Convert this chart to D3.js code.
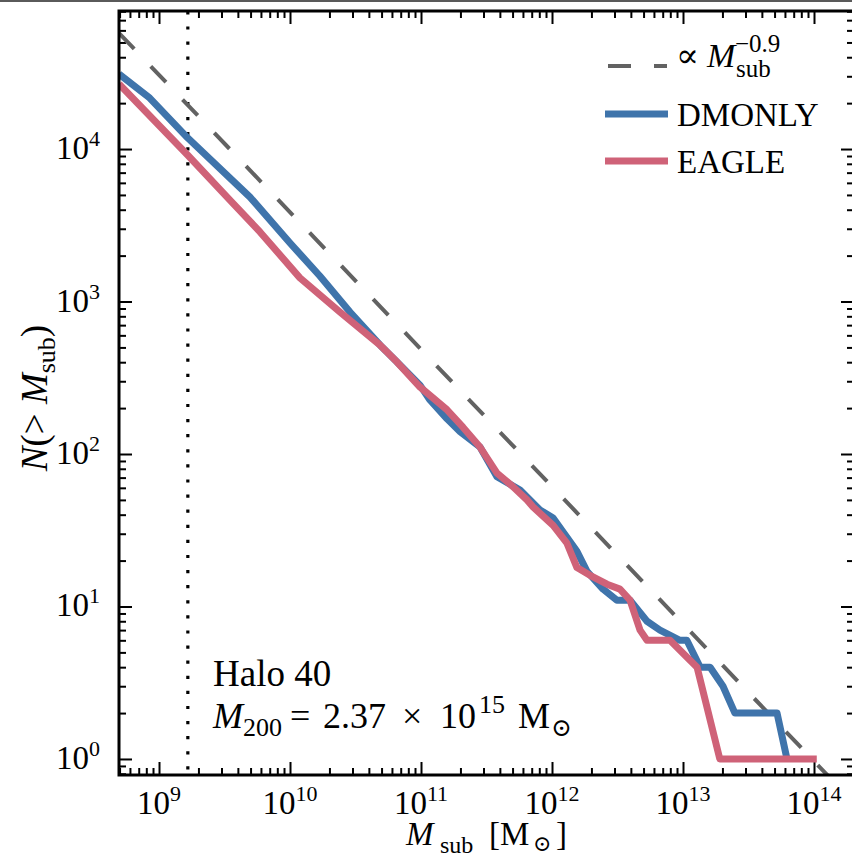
<!DOCTYPE html>
<html>
<head>
<meta charset="utf-8">
<script src="https://cdn.jsdelivr.net/npm/d3@7"></script>
<style>
body { margin: 0; background: #fff; }
svg { display: block; }
text { font-family: "Liberation Serif", "DejaVu Serif", serif; fill: #000; }
</style>
</head>
<body>
<div id="chart"></div>
<script>
// cumulative subhalo mass functions
var dmonlyMass = [4.95e8, 8.5e8, 1.66e9, 4.95e9, 1.0e10, 1.69e10, 2.87e10, 4.86e10, 6.56e10, 9.82e10,
    1.17e11, 1.58e11, 1.99e11, 2.82e11, 3.80e11, 5.70e11, 8.09e11, 1.02e12, 1.55e12, 1.85e12,
    2.45e12, 3.13e12, 3.94e12, 5.31e12, 6.67e12, 9.48e12, 1.07e13, 1.35e13, 1.61e13, 2.02e13,
    2.49e13, 5.22e13, 6.22e13];
var dmonlyCount = [31000, 21600, 11800, 4840, 2420, 1470, 853, 519, 401, 283,
    226, 170, 140, 111, 71, 58, 43, 38, 23, 17,
    13, 11, 11, 8, 7, 6, 6, 4, 4, 3,
    2, 2, 1];

var eagleMass = [4.95e8, 1.66e9, 3.48e9, 5.9e9, 1.19e10, 2.41e10, 4.86e10, 6.56e10, 9.82e10, 1.58e11,
    2.09e11, 2.82e11, 3.80e11, 5.04e11, 6.44e11, 7.16e11, 1.02e12, 1.30e12, 1.55e12, 1.95e12,
    2.63e12, 3.30e12, 3.94e12, 4.70e12, 5.31e12, 7.96e12, 1.28e13, 1.91e13, 1.05e14];
var eagleCount = [26700, 9100, 4630, 2860, 1430, 853, 519, 401, 275, 195,
    150, 111, 75, 61, 50, 45, 34, 26, 18, 16,
    14, 13, 11, 7, 6, 6, 4, 1, 1];

// reference power law N ~ A * M^-0.9
var slopeNorm = 3.855e12;
var slopeIndex = -0.9;

var resolutionMass = 1.66e9;

var xTickValues = [1e9, 1e10, 1e11, 1e12, 1e13, 1e14];
var xTickExps = ["9", "10", "11", "12", "13", "14"];
var yTickValues = [1, 10, 100, 1000, 10000];
var yTickExps = ["0", "1", "2", "3", "4"];

var colors = { dmonly: "#3f74ab", eagle: "#cf6278", slope: "#626262" };

var width = 852, height = 860;
var margin = { left: 119, right: -2, top: 11, bottom: 85 };
var plotW = width - margin.left - margin.right,
    plotH = height - margin.top - margin.bottom;

var svg = d3.select("#chart")
    .append("svg")
    .attr("width", width)
    .attr("height", height);

// dark strip along the top edge of the page
svg.append("rect")
    .attr("x", 0).attr("y", 0)
    .attr("width", width).attr("height", 2)
    .attr("fill", "#5a5a5a");

var x = d3.scaleLog().domain([4.95e8, 2.02e14]).range([0, plotW]);
var y = d3.scaleLog().domain([0.785, 8.04e4]).range([plotH, 0]);

var g = svg.append("g")
    .attr("transform", "translate(" + margin.left + "," + margin.top + ")");

g.append("clipPath").attr("id", "plotclip")
    .append("rect").attr("width", plotW).attr("height", plotH);

function minorTicks(domain) {
    var out = [];
    for (var d = -1; d <= 15; d++) {
        for (var k = 2; k <= 9; k++) {
            var v = k * Math.pow(10, d);
            if (v > domain[0] && v < domain[1]) out.push(v);
        }
    }
    return out;
}

function drawTicks(axis, transform, values, size) {
    var a = g.append("g")
        .attr("transform", transform)
        .call(axis.tickValues(values).tickSize(size).tickFormat(""));
    a.select(".domain").remove();
    a.selectAll("line").attr("stroke", "#000").attr("stroke-width", 2);
}

var xMinor = minorTicks(x.domain()), yMinor = minorTicks(y.domain());
drawTicks(d3.axisBottom(x), "translate(0," + plotH + ")", xTickValues, -13);
drawTicks(d3.axisBottom(x), "translate(0," + plotH + ")", xMinor, -7);
drawTicks(d3.axisTop(x), "translate(0,0)", xTickValues, -13);
drawTicks(d3.axisTop(x), "translate(0,0)", xMinor, -7);
drawTicks(d3.axisLeft(y), "translate(0,0)", yTickValues, -13);
drawTicks(d3.axisLeft(y), "translate(0,0)", yMinor, -7);
drawTicks(d3.axisRight(y), "translate(" + plotW + ",0)", yTickValues, -13);
drawTicks(d3.axisRight(y), "translate(" + plotW + ",0)", yMinor, -7);

// tick labels as 10^n
function powLabel(t, exp) {
    t.append("tspan").text("10");
    t.append("tspan").attr("dy", -13).attr("font-size", 22).text(exp);
}

xTickValues.forEach(function (v, i) {
    var t = g.append("text")
        .attr("x", x(v))
        .attr("y", plotH + 39)
        .attr("text-anchor", "middle")
        .attr("font-size", 33);
    powLabel(t, xTickExps[i]);
});

yTickValues.forEach(function (v, i) {
    var t = g.append("text")
        .attr("x", -19)
        .attr("y", y(v) + 10)
        .attr("text-anchor", "end")
        .attr("font-size", 33);
    powLabel(t, yTickExps[i]);
});

var plot = g.append("g").attr("clip-path", "url(#plotclip)");

// resolution limit
plot.append("line")
    .attr("x1", x(resolutionMass)).attr("x2", x(resolutionMass))
    .attr("y1", plotH).attr("y2", 0)
    .attr("stroke", "#000")
    .attr("stroke-width", 3.2)
    .attr("stroke-dasharray", "3.2,11.9")
    .attr("stroke-dashoffset", 9.6);

// power law
var slopeData = x.domain().map(function (m) {
    return { m: m, n: slopeNorm * Math.pow(m, slopeIndex) };
});
plot.append("path")
    .datum(slopeData)
    .attr("fill", "none")
    .attr("stroke", colors.slope)
    .attr("stroke-width", 4)
    .attr("stroke-dasharray", "22,24")
    .attr("d", d3.line().x(function (d) { return x(d.m); }).y(function (d) { return y(d.n); }));

var line = d3.line()
    .x(function (d) { return x(d[0]); })
    .y(function (d) { return y(d[1]); });

plot.append("path")
    .datum(d3.zip(dmonlyMass, dmonlyCount))
    .attr("fill", "none")
    .attr("stroke", colors.dmonly)
    .attr("stroke-width", 7)
    .attr("stroke-linejoin", "round")
    .attr("d", line);

plot.append("path")
    .datum(d3.zip(eagleMass, eagleCount))
    .attr("fill", "none")
    .attr("stroke", colors.eagle)
    .attr("stroke-width", 7)
    .attr("stroke-linejoin", "round")
    .attr("d", line);

// frame
g.append("rect")
    .attr("width", plotW).attr("height", plotH)
    .attr("fill", "none")
    .attr("stroke", "#000")
    .attr("stroke-width", 3);

// legend
var lg = svg.append("g");
lg.append("line")
    .attr("x1", 608).attr("x2", 667).attr("y1", 66).attr("y2", 66)
    .attr("stroke", colors.slope).attr("stroke-width", 4)
    .attr("stroke-dasharray", "23,23");
var lt = lg.append("text").attr("x", 676).attr("y", 67).attr("font-size", 34);
lt.append("tspan").text("\u221D");
lt.append("tspan").attr("x", 707).attr("font-style", "italic").text("M");
lt.append("tspan").attr("x", 736).attr("dy", 10).attr("font-size", 25).text("sub");
lt.append("tspan").attr("x", 735).attr("dy", -25).attr("font-size", 25).text("\u22120.9");

[["DMONLY", colors.dmonly, 114], ["EAGLE", colors.eagle, 161]].forEach(function (e) {
    lg.append("line")
        .attr("x1", 605).attr("x2", 668).attr("y1", e[2]).attr("y2", e[2])
        .attr("stroke", e[1]).attr("stroke-width", 7);
    lg.append("text")
        .attr("x", 677).attr("y", e[2] + 12)
        .attr("font-size", 33)
        .text(e[0]);
});

// halo annotation
svg.append("text").attr("x", 213).attr("y", 686).attr("font-size", 37).text("Halo 40");
var ann = svg.append("text").attr("x", 213).attr("y", 728).attr("font-size", 36);
ann.append("tspan").attr("font-style", "italic").text("M");
ann.append("tspan").attr("x", 243).attr("dy", 8).attr("font-size", 26).text("200");
ann.append("tspan").attr("x", 290).attr("dy", -8).text("=");
ann.append("tspan").attr("x", 323).text("2.37");
ann.append("tspan").attr("x", 402).text("\u00D7");
ann.append("tspan").attr("x", 440).text("10");
ann.append("tspan").attr("x", 479).attr("dy", -15).attr("font-size", 26).text("15");
ann.append("tspan").attr("x", 518).attr("dy", 15).text("M");
ann.append("tspan").attr("x", 551).attr("dy", 8).attr("font-size", 25).text("\u2299");

// axis titles
var xt = svg.append("text")
    .attr("x", 406).attr("y", 845)
    .attr("font-size", 33);
xt.append("tspan").attr("font-style", "italic").text("M");
xt.append("tspan").attr("x", 440).attr("dy", 8).attr("font-size", 24).text("sub");
xt.append("tspan").attr("x", 489).attr("dy", -8).text("[M");
xt.append("tspan").attr("x", 533).attr("dy", 6).attr("font-size", 22).text("\u2299");
xt.append("tspan").attr("x", 556).attr("dy", -6).text("]");

var yt = svg.append("text")
    .attr("transform", "translate(47,398) rotate(-90)")
    .attr("text-anchor", "middle")
    .attr("font-size", 37);
yt.append("tspan").attr("font-style", "italic").text("N");
yt.append("tspan").text("(> ");
yt.append("tspan").attr("font-style", "italic").text("M");
yt.append("tspan").attr("dy", 8).attr("font-size", 26).text("sub");
yt.append("tspan").attr("dy", -8).text(")");
</script>
</body>
</html>
